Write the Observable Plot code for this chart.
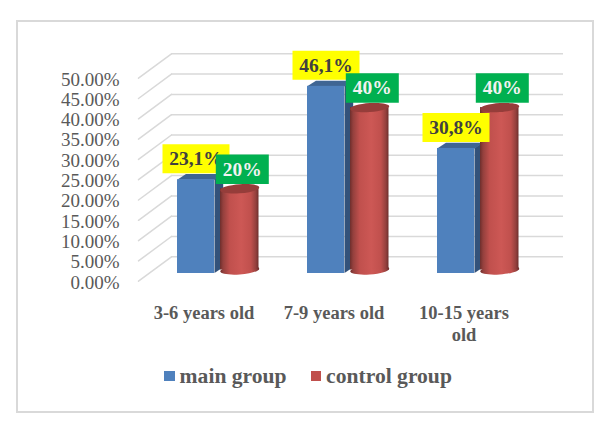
<!DOCTYPE html>
<html>
<head>
<meta charset="utf-8">
<script src="https://cdn.jsdelivr.net/npm/d3@7"></script>
<script src="https://cdn.jsdelivr.net/npm/@observablehq/plot@0.6"></script>
<style>
  html, body { margin: 0; padding: 0; background: #fff; }
  #page { position: relative; width: 608px; height: 428px; overflow: hidden; }
  #frame { position: absolute; left: 16px; top: 20px; width: 574px; height: 389px; border: 2px solid #d9d9d9; box-sizing: content-box; }
  #chart { position: absolute; left: 0; top: 0; }
  #chart svg { display: block; background: transparent; }
  #legend { position: absolute; left: 0; top: 361px; width: 608px; height: 30px; display: flex; justify-content: center; align-items: center; gap: 24px;
    font: bold 21.6px "Liberation Serif", serif; color: #595959; padding-left: 8px; box-sizing: border-box; }
  #legend span.item { display: inline-flex; align-items: center; gap: 5px; }
  #legend i { display: inline-block; width: 10.5px; height: 10.5px; }
</style>
</head>
<body>
<div id="page">
  <div id="frame"></div>
  <div id="chart"></div>
  <div id="legend"></div>
</div>
<script>
const categories = ["3-6 years old", "7-9 years old", "10-15 years old"];
const tickLabels = ["3-6 years old", "7-9 years old", "10-15 years\nold"];
const seriesNames = ["main group", "control group"];
const mainGroup = [0.231, 0.461, 0.308];
const controlGroup = [0.20, 0.40, 0.40];
const mainLabels = ["23,1%", "46,1%", "30,8%"];
const controlLabels = ["20%", "40%", "40%"];
const yTicks = [0, 0.05, 0.10, 0.15, 0.20, 0.25, 0.30, 0.35, 0.40, 0.45, 0.50];

const blue = "#4f81bd", blueTop = "#3f6593", blueSide = "#33527a";
const red = "#c0504d", redTop = "#953d3a";
const serif = "Liberation Serif";

const main = categories.map((c, i) => ({c, v: mainGroup[i], t: mainLabels[i]}));
const ctrl = categories.map((c, i) => ({c, v: controlGroup[i], t: controlLabels[i]}));

// styling offsets of the fake-3D projection
const barW = 37.5, cylW = 39, mainDx = -8, cylDx = 35, cylDy = -3.5;
const depthX = 8.7, depthY = 5.7;

function box(w, h) {
  return {draw(ctx) { ctx.rect(-w / 2, -h / 2, w, h); }};
}
function ellipse(rx, ry, tilt) {
  const k = 0.5523;
  const p = (a, b) => [a * rx, b * ry - a * rx * tilt];
  return {draw(ctx) {
    ctx.moveTo(...p(-1, 0));
    ctx.bezierCurveTo(...p(-1, -k), ...p(-k, -1), ...p(0, -1));
    ctx.bezierCurveTo(...p(k, -1), ...p(1, -k), ...p(1, 0));
    ctx.bezierCurveTo(...p(1, k), ...p(k, 1), ...p(0, 1));
    ctx.bezierCurveTo(...p(-k, 1), ...p(-1, k), ...p(-1, 0));
    ctx.closePath();
  }};
}
function parallelogram(w, dx, dy) {
  return {draw(ctx) {
    ctx.moveTo(-w / 2, 0);
    ctx.lineTo(w / 2, 0);
    ctx.lineTo(w / 2 + dx, -dy);
    ctx.lineTo(-w / 2 + dx, -dy);
    ctx.closePath();
  }};
}
const diagonal = {draw(ctx, l) { ctx.moveTo(0, 0); ctx.lineTo(0, -l); }};

const chart = Plot.plot({
  width: 608,
  height: 352,
  marginLeft: 138,
  marginRight: 78,
  marginTop: 70,
  marginBottom: 79,
  style: {background: "transparent", fontFamily: serif},
  x: {domain: categories, paddingInner: 1 - barW / 130.67, paddingOuter: (1 - barW / 130.67) / 2, align: 0.5, label: null},
  y: {domain: [0, 0.5], label: null},
  marks: [
    () => {
      const ns = "http://www.w3.org/2000/svg";
      const defs = document.createElementNS(ns, "defs");
      const g = document.createElementNS(ns, "linearGradient");
      g.setAttribute("id", "cyl");
      [[0, "#6e2e2c"], [0.08, "#94403d"], [0.25, "#c0504d"], [0.55, "#cd5855"], [0.8, "#c0504d"], [0.93, "#94403d"], [1, "#6e2e2c"]].forEach(([o, c]) => {
        const s = document.createElementNS(ns, "stop");
        s.setAttribute("offset", o);
        s.setAttribute("stop-color", c);
        g.appendChild(s);
      });
      defs.appendChild(g);
      return defs;
    },
    // back wall gridlines and the receding side wall
    Plot.ruleY(yTicks, {stroke: "#d9d9d9", strokeWidth: 1.5, strokeOpacity: 1, dx: 33, dy: -16.7}),
    Plot.vector(yTicks, {y: d => d, frameAnchor: "left", length: 41, rotate: 53.5, anchor: "start", shape: diagonal, stroke: "#d9d9d9", strokeWidth: 1.5, dy: 7.7}),
    // main group: side, top, front
    (index, {x, y}) => {
      const ns = "http://www.w3.org/2000/svg";
      const g = document.createElementNS(ns, "g");
      for (const d of main) {
        const x1 = x(d.c) + mainDx + barW, y1 = y(d.v), y0 = y(0);
        const p = document.createElementNS(ns, "path");
        p.setAttribute("d", `M${x1},${y1}L${x1 + depthX},${y1 - depthY}L${x1 + depthX},${y0 - depthY}L${x1},${y0}Z`);
        p.setAttribute("fill", blueSide);
        g.appendChild(p);
      }
      return g;
    },
    Plot.dot(main, {x: "c", y: "v", dx: mainDx, symbol: parallelogram(barW, depthX, depthY), fill: blueTop, stroke: "none", r: 5}),
    Plot.barY(main, {x: "c", y: "v", dx: mainDx, fill: blue}),
    // control group: cylinders
    Plot.dot(ctrl, {x: "c", y: 0, dx: cylDx + 0.75, dy: cylDy, symbol: ellipse(cylW / 2, 4.5, 0.07), fill: "url(#cyl)", stroke: "none", r: 5}),
    Plot.barY(ctrl, {x: "c", y: "v", dx: cylDx, dy: cylDy, fill: "url(#cyl)", insetRight: -1.5}),
    Plot.dot(ctrl, {x: "c", y: "v", dx: cylDx + 0.75, dy: cylDy, symbol: ellipse(cylW / 2, 4.5, 0.07), fill: redTop, stroke: "none", r: 5}),
    // value labels
    Plot.dot(main, {x: "c", y: "v", dx: mainDx, dy: -21, symbol: box(67, 29), fill: "#ffff00", stroke: "none", r: 5}),
    Plot.text(main, {x: "c", y: "v", dx: mainDx, dy: -21, text: "t", fill: "#404040", fontSize: 19.5, fontWeight: "bold", fontFamily: serif}),
    Plot.dot(ctrl, {x: "c", y: "v", dx: cylDx + 3.3, dy: cylDy - 19.5, symbol: box(53, 29.5), fill: "#00b050", stroke: "none", r: 5}),
    Plot.text(ctrl, {x: "c", y: "v", dx: cylDx + 3.3, dy: cylDy - 19.5, text: "t", fill: "#f2f2f2", fontSize: 19.5, fontWeight: "bold", fontFamily: serif}),
    // axes
    Plot.axisY({ticks: yTicks, tickSize: 0, tickPadding: 19, tickFormat: d3.format(".2%"), fill: "#595959", fontSize: 19, fontFamily: serif, dy: 9, label: null, anchor: "left"}),
    Plot.axisX({tickSize: 0, tickPadding: 30, tickFormat: c => tickLabels[categories.indexOf(c)], fill: "#595959", fontSize: 18.5, fontWeight: "bold", fontFamily: serif, lineHeight: 1.2, label: null, anchor: "bottom"})
  ]
});
document.getElementById("chart").appendChild(chart);

const legend = document.getElementById("legend");
[blue, red].forEach((c, i) => {
  const item = document.createElement("span");
  item.className = "item";
  const sw = document.createElement("i");
  sw.style.background = c;
  item.appendChild(sw);
  item.appendChild(document.createTextNode(seriesNames[i]));
  legend.appendChild(item);
});
</script>
</body>
</html>
